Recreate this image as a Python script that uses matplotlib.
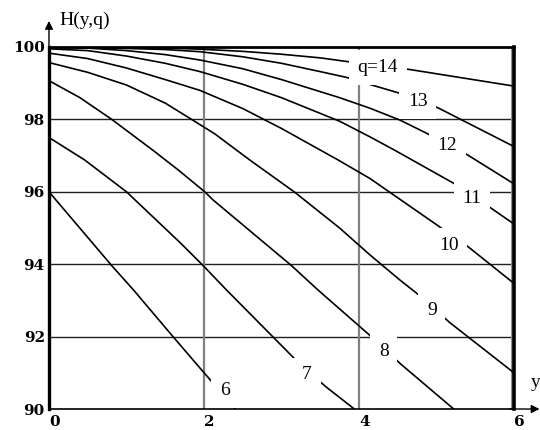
import numpy as np
import matplotlib
matplotlib.use("Agg")
from matplotlib import pyplot as plt

plt.rcParams['font.family'] = ['Liberation Serif', 'DejaVu Serif']

# family of curves H(y,q), one per q
q6_x = [0, 0.81, 1.09, 1.6, 2.05, 2.34, 2.42]
q6_y = [96.0, 93.96, 93.29, 92.0, 90.88, 90.16, 89.95]

q7_x = [0, 0.46, 1.0, 1.69, 1.99, 2.29, 3.21, 3.57, 3.97]
q7_y = [97.5, 96.88, 96.0, 94.6, 93.96, 93.29, 91.3, 90.62, 89.95]

q8_x = [0, 0.4, 0.81, 1.34, 1.67, 2.01, 2.12, 3.13, 3.47, 4.18, 4.54, 5.25]
q8_y = [99.07, 98.6, 98.0, 97.15, 96.6, 96.0, 95.77, 93.96, 93.29, 91.96, 91.24, 89.95]

q9_x = [0, 0.5, 1.0, 1.5, 1.84, 2.14, 2.59, 3.17, 3.75, 4.14, 4.53, 4.79, 5.17, 6.0]
q9_y = [99.57, 99.3, 98.95, 98.45, 98.0, 97.6, 96.88, 95.99, 95.0, 94.26, 93.56, 93.12, 92.39, 91.0]

q10_x = [0, 0.5, 1.0, 1.5, 1.95, 2.5, 3.0, 3.73, 4.14, 5.13, 5.41, 6.0]
q10_y = [99.83, 99.68, 99.42, 99.1, 98.8, 98.3, 97.75, 96.88, 96.37, 94.9, 94.48, 93.47]

q11_x = [0, 0.5, 1.0, 1.5, 1.95, 2.5, 3.0, 3.75, 4.14, 4.46, 5.26, 5.71, 6.0]
q11_y = [99.95, 99.9, 99.75, 99.55, 99.32, 98.97, 98.6, 97.95, 97.52, 97.15, 96.19, 95.54, 95.11]

q12_x = [0, 0.5, 1.0, 1.5, 1.95, 2.5, 3.0, 3.75, 4.14, 4.53, 4.87, 5.37, 6.0]
q12_y = [99.99, 99.97, 99.9, 99.79, 99.64, 99.4, 99.1, 98.6, 98.31, 97.98, 97.62, 97.06, 96.22]

q13_x = [0, 0.5, 1.0, 1.5, 1.95, 2.5, 3.0, 3.5, 3.84, 3.99, 4.53, 5.02, 6.0]
q13_y = [100.0, 99.99, 99.96, 99.93, 99.87, 99.73, 99.55, 99.32, 99.16, 99.06, 98.72, 98.32, 97.25]

q14_x = [0, 1.0, 1.5, 1.95, 2.5, 3.0, 3.5, 3.84, 4.65, 6.0]
q14_y = [100.0, 99.99, 99.97, 99.94, 99.88, 99.8, 99.7, 99.6, 99.38, 98.92]

curves_x = [q6_x, q7_x, q8_x, q9_x, q10_x, q11_x, q12_x, q13_x, q14_x]
curves_y = [q6_y, q7_y, q8_y, q9_y, q10_y, q11_y, q12_y, q13_y, q14_y]

# inline labels for each curve
label_text = ['6', '7', '8', '9', '10', '11', '12', '13', 'q=14']
label_x = [2.27, 3.33, 4.32, 4.94, 5.16, 5.46, 5.14, 4.76, 4.24]
label_y = [90.5, 90.94, 91.59, 92.73, 94.52, 95.81, 97.28, 98.49, 99.43]

x_ticks = [0, 2, 4, 6]
y_ticks = [90, 92, 94, 96, 98, 100]

fig = plt.figure(figsize=(5.4, 4.3), dpi=100)
ax = fig.add_axes([0.0907, 0.0488, 0.8611, 0.8419])

for xs, ys in zip(curves_x, curves_y):
    ax.plot(xs, ys, color='black', lw=1.2, zorder=2, solid_capstyle='butt')

for t, lx, ly in zip(label_text, label_x, label_y):
    ax.text(lx, ly, t, ha='center', va='center', fontsize=14, zorder=3,
            bbox=dict(boxstyle='square,pad=0.45', fc='white', ec='none'))

# grid
for yv in y_ticks[1:-1]:
    ax.axhline(yv, color='#202020', lw=1.0, zorder=0.5)
for xv in x_ticks[1:-1]:
    ax.axvline(xv, color='#808080', lw=1.6, zorder=0.5)
ax.axvline(x_ticks[-1] - 0.03, color='#909090', lw=1.5, zorder=0.5)

ax.set_xlim(0, 6)
ax.set_ylim(90, 100)
ax.set_xticks(x_ticks)
ax.set_yticks(y_ticks)
ax.tick_params(length=0, labelsize=11)
ax.tick_params(axis='x', pad=4)
ax.tick_params(axis='y', pad=3)
for lab in ax.get_xticklabels() + ax.get_yticklabels():
    lab.set_family('DejaVu Serif')
    lab.set_fontweight('bold')
for lab in ax.get_xticklabels():
    lab.set_ha('left')

for side, w in [('left', 2.4), ('top', 2.0), ('right', 2.6), ('bottom', 1.2)]:
    ax.spines[side].set_linewidth(w)
    ax.spines[side].set_zorder(5)

# axis arrows and names
ax.annotate('', xy=(0, 1.072), xytext=(0, 0.99), xycoords='axes fraction',
            arrowprops=dict(arrowstyle='-|>', color='black', lw=1.0,
                            mutation_scale=12, shrinkA=0, shrinkB=0))
ax.annotate('', xy=(1.055, 0), xytext=(0.99, 0), xycoords='axes fraction',
            arrowprops=dict(arrowstyle='-|>', color='black', lw=1.0,
                            mutation_scale=12, shrinkA=0, shrinkB=0))
ax.text(0.022, 1.075, 'H(y,q)', transform=ax.transAxes, ha='left', va='center',
        fontsize=14)
ax.text(1.037, 0.072, 'y', transform=ax.transAxes, ha='left', va='center',
        fontsize=14)

fig.savefig('out.png', dpi=100)
